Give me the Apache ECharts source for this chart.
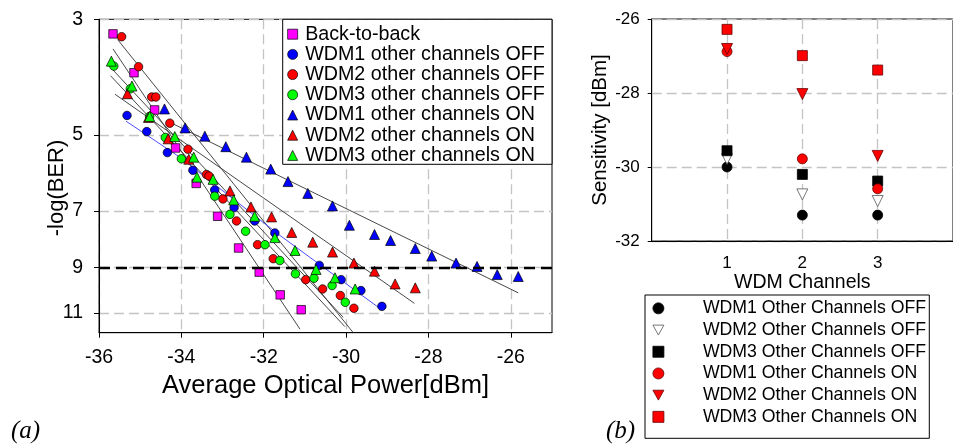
<!DOCTYPE html>
<html><head><meta charset="utf-8">
<script src="https://cdn.jsdelivr.net/npm/echarts@6/dist/echarts.min.js"></script>
<style>html,body{margin:0;padding:0;background:#fff}#c{width:953px;height:444px}</style>
</head><body><div id="c"></div>
<script>
const FONT = '"Liberation Sans", Arial, sans-serif';

// ---------- (a) BER curves ----------
const xTicksA = [-36, -34, -32, -30, -28, -26];
const yTicksA = [3, 5, 7, 9, 11];
const thresholdA = 9;

const b2bX = [-35.66, -35.15, -34.65, -34.14, -33.64, -33.12, -32.61, -32.11, -31.60, -31.09];
const b2bY = [3.20, 3.80, 4.48, 5.30, 6.20, 7.17, 8.25, 9.18, 10.15, 10.84];

const wdm1OffX = [-35.32, -34.84, -34.34, -33.72, -33.19, -32.72, -32.22, -31.73, -30.65, -30.12, -29.64, -29.13];
const wdm1OffY = [4.59, 4.93, 5.41, 5.85, 6.38, 6.90, 7.32, 7.72, 8.91, 9.49, 9.96, 10.68];

const wdm2OffX = [-35.45, -35.04, -34.72, -34.62, -34.28, -33.84, -33.39, -33.33, -32.99, -32.66, -32.15, -31.77, -30.98, -30.57, -30.14, -29.81];
const wdm2OffY = [3.24, 3.70, 4.23, 4.23, 4.75, 5.33, 5.96, 6.00, 6.64, 7.32, 8.13, 8.65, 9.49, 9.89, 10.18, 10.77];

const wdm3OffX = [-35.64, -35.24, -34.77, -34.39, -34.00, -33.19, -32.82, -32.44, -31.97, -31.61, -31.23, -30.78, -30.34, -30.02];
const wdm3OffY = [3.69, 4.08, 4.61, 5.06, 5.56, 6.56, 7.11, 7.66, 8.13, 8.72, 9.25, 9.43, 9.74, 10.49];

const wdm1OnX = [-34.41, -33.91, -33.43, -32.92, -32.42, -31.83, -31.41, -30.93, -30.33, -29.92, -29.31, -28.92, -28.32, -27.92, -27.33, -26.82, -26.33, -25.82];
const wdm1OnY = [4.46, 4.85, 5.03, 5.27, 5.52, 5.82, 6.15, 6.48, 6.85, 7.46, 7.77, 7.98, 8.27, 8.55, 8.82, 8.95, 9.28, 9.36];

const wdm2OnX = [-35.31, -34.80, -34.32, -33.82, -32.82, -32.31, -31.81, -31.32, -30.81, -30.33, -29.81, -29.31, -28.81, -28.32];
const wdm2OnY = [4.17, 4.63, 5.09, 5.57, 6.41, 6.88, 7.19, 7.70, 8.04, 8.40, 8.82, 9.14, 9.67, 9.84];

const wdm3OnX = [-35.70, -35.20, -34.77, -34.16, -33.70, -33.62, -33.23, -32.73, -32.22, -31.73, -31.24, -30.73, -30.27, -29.78];
const wdm3OnY = [3.61, 4.03, 4.61, 5.04, 5.52, 6.03, 6.09, 6.67, 7.17, 7.88, 8.34, 9.07, 9.41, 9.89];

// fitted lines
const fitB2bX = [-35.66, -31.12];     const fitB2bY = [3.42, 11.81];
const fitWdm2OffX = [-35.55, -29.83]; const fitWdm2OffY = [3.28, 11.99];
const fitWdm3OffX = [-35.72, -30.07]; const fitWdm3OffY = [3.71, 11.21];
const fitWdm3OnX = [-35.72, -30.03];  const fitWdm3OnY = [3.85, 11.68];
const fitWdm2OnX = [-35.61, -28.34];  const fitWdm2OnY = [4.18, 10.54];
const fitWdm1OnX = [-34.33, -25.82];  const fitWdm1OnY = [4.71, 10.06];
const fitWdm1OffX = [-35.34, -34.04, -31.61, -29.13]; const fitWdm1OffY = [4.71, 5.52, 7.80, 10.85];

// ---------- (b) sensitivity ----------
const channels = [1, 2, 3];
const sensWdm1Off = [-30.00, -31.30, -31.30];
const sensWdm2Off = [-29.78, -30.74, -30.92];
const sensWdm3Off = [-29.56, -30.20, -30.38];
const sensWdm1On = [-26.88, -29.78, -30.59];
const sensWdm2On = [-26.81, -28.03, -29.70];
const sensWdm3On = [-26.28, -26.99, -27.38];

const namesA = ['Back-to-back', 'WDM1 other channels OFF', 'WDM2 other channels OFF', 'WDM3 other channels OFF',
  'WDM1 other channels ON', 'WDM2 other channels ON', 'WDM3 other channels ON'];
const namesB = ['WDM1 Other Channels OFF', 'WDM2 Other Channels OFF', 'WDM3 Other Channels OFF',
  'WDM1 Other Channels ON', 'WDM2 Other Channels ON', 'WDM3 Other Channels ON'];

const zip = (xs, ys) => xs.map((x, i) => [x, ys[i]]);

const MAG = '#ff00ff', BLUE = '#0000ff', RED = '#ff0000', GREEN = '#00ff00';
const gridLine = { show: true, lineStyle: { color: '#c4c4c4', type: [10, 5], width: 1.3 } };
const DOWN_TRI = 'path://M0,0L10,0L5,9Z';

function scA(name, xs, ys, symbol, color, size) {
  return { type: 'scatter', name, xAxisIndex: 0, yAxisIndex: 0, data: zip(xs, ys), symbol, symbolSize: size,
    itemStyle: { color, borderColor: '#000', borderWidth: 0.7, opacity: 1 }, z: 3 };
}
function fitA(xs, ys, color) {
  return { type: 'line', name: '_fit', xAxisIndex: 0, yAxisIndex: 0, data: zip(xs, ys), symbol: 'none', showSymbol: false,
    silent: true, lineStyle: { color, width: 0.9 }, z: 2 };
}
function scB(name, ys, symbol, color, border, size, rot) {
  return { type: 'scatter', name, xAxisIndex: 1, yAxisIndex: 1, data: zip(channels, ys), symbol, symbolSize: size,
    symbolRotate: rot || 0, itemStyle: { color, borderColor: border, borderWidth: 0.8, opacity: 1 }, z: 3 };
}

const b2bSeries = scA(namesA[0], b2bX, b2bY, 'rect', MAG, 8.5);
b2bSeries.markLine = { silent: true, symbol: 'none', label: { show: false },
  lineStyle: { color: '#000', type: [11, 6], width: 2.4 }, data: [{ yAxis: thresholdA }] };

const legendB = namesB.map((n, i) => (i === 1 || i === 4) ? { name: n, icon: DOWN_TRI } : { name: n });

const option = {
  animation: false,
  backgroundColor: '#fff',
  textStyle: { fontFamily: FONT },
  grid: [
    { left: 99, top: 19.3, width: 453, height: 313.4, show: true, borderColor: '#000', borderWidth: 1, backgroundColor: '#fff' },
    { left: 651.7, top: 19, width: 309.2, height: 222, show: true, borderColor: '#000', borderWidth: 1, backgroundColor: '#fff' }
  ],
  xAxis: [
    { gridIndex: 0, type: 'value', min: -36, max: -25,
      axisLine: { show: true, lineStyle: { color: '#000' } },
      axisTick: { show: true, length: 5, customValues: xTicksA, lineStyle: { color: '#000' } },
      axisLabel: { customValues: xTicksA, fontSize: 19.5, color: '#000', margin: 15, fontFamily: FONT },
      splitLine: gridLine,
      name: 'Average Optical Power[dBm]', nameLocation: 'middle', nameGap: 37,
      nameTextStyle: { fontSize: 25.5, color: '#000', fontFamily: FONT } },
    { gridIndex: 1, type: 'value', min: 0, max: 4,
      axisLine: { show: true, lineStyle: { color: '#000' } },
      axisTick: { show: false, customValues: channels },
      axisLabel: { customValues: channels, fontSize: 17, color: '#000', margin: 14, fontFamily: FONT },
      splitLine: gridLine,
      name: 'WDM Channels', nameLocation: 'middle', nameGap: 30,
      nameTextStyle: { fontSize: 19.5, color: '#000', fontFamily: FONT } }
  ],
  yAxis: [
    { gridIndex: 0, type: 'log', logBase: 10, min: 3, max: 12, inverse: true,
      axisLine: { show: true, lineStyle: { color: '#000' } },
      axisTick: { show: true, length: 5, customValues: yTicksA, lineStyle: { color: '#000' } },
      axisLabel: { customValues: yTicksA, fontSize: 19.5, color: '#000', margin: 16, fontFamily: FONT },
      splitLine: gridLine },
    { gridIndex: 1, type: 'value', min: -32, max: -26, interval: 2,
      axisLine: { show: true, lineStyle: { color: '#000' } },
      axisTick: { show: true, length: 4, lineStyle: { color: '#000' } },
      axisLabel: { fontSize: 17, color: '#000', margin: 12, fontFamily: FONT },
      splitLine: gridLine,
      name: 'Sensitivity [dBm]', nameLocation: 'middle', nameGap: 38,
      nameTextStyle: { fontSize: 20.5, color: '#000', fontFamily: FONT } }
  ],
  legend: [
    { orient: 'vertical', left: 287.3, top: 24.2, padding: 0, itemGap: 0.2, itemWidth: 10, itemHeight: 10,
      data: namesA, selectedMode: false, itemStyle: { borderWidth: 0.7, borderColor: '#000' },
      textStyle: { fontSize: 19.7, lineHeight: 20, color: '#000', fontFamily: FONT, padding: [0, 0, 0, 2.5] }, z: 6 },
    { orient: 'vertical', left: 652.5, top: 297.5, padding: 0, itemGap: 0, itemWidth: 11, itemHeight: 11,
      data: legendB, selectedMode: false, itemStyle: { borderWidth: 0.8 },
      textStyle: { fontSize: 17.7, lineHeight: 21.7, color: '#000', fontFamily: FONT, padding: [0, 0, 0, 34] }, z: 6 }
  ],
  graphic: [
    { type: 'rect', z: 5, shape: { x: 282.7, y: 19.3, width: 269.3, height: 145 },
      style: { fill: '#fff', stroke: '#000', lineWidth: 1 } },
    { type: 'rect', z: 5, shape: { x: 645, y: 295, width: 284.3, height: 143.3 },
      style: { fill: '#fff', stroke: '#000', lineWidth: 1 } },
    { type: 'text', x: 57, y: 188, rotation: Math.PI / 2, z: 6,
      style: { text: '-log(BER)', font: '22px ' + FONT, fill: '#000', textAlign: 'center', textVerticalAlign: 'middle' } },
    { type: 'text', x: 11, y: 431, z: 6,
      style: { text: '(a)', font: 'italic 25px "Liberation Serif", "Times New Roman", serif', fill: '#000', textAlign: 'left', textVerticalAlign: 'middle' } },
    { type: 'text', x: 606, y: 431, z: 6,
      style: { text: '(b)', font: 'italic 25px "Liberation Serif", "Times New Roman", serif', fill: '#000', textAlign: 'left', textVerticalAlign: 'middle' } }
  ],
  series: [
    fitA(fitB2bX, fitB2bY, '#333'),
    fitA(fitWdm2OffX, fitWdm2OffY, '#333'),
    fitA(fitWdm3OffX, fitWdm3OffY, '#333'),
    fitA(fitWdm3OnX, fitWdm3OnY, '#333'),
    fitA(fitWdm2OnX, fitWdm2OnY, '#333'),
    fitA(fitWdm1OnX, fitWdm1OnY, '#333'),
    fitA(fitWdm1OffX, fitWdm1OffY, '#3a3aff'),
    b2bSeries,
    scA(namesA[1], wdm1OffX, wdm1OffY, 'circle', BLUE, 8.5),
    scA(namesA[2], wdm2OffX, wdm2OffY, 'circle', RED, 8.5),
    scA(namesA[3], wdm3OffX, wdm3OffY, 'circle', GREEN, 8.5),
    scA(namesA[4], wdm1OnX, wdm1OnY, 'triangle', BLUE, 10),
    scA(namesA[5], wdm2OnX, wdm2OnY, 'triangle', RED, 10),
    scA(namesA[6], wdm3OnX, wdm3OnY, 'triangle', GREEN, 10),
    scB(namesB[0], sensWdm1Off, 'circle', '#000', '#000', 10),
    scB(namesB[1], sensWdm2Off, 'triangle', '#fff', '#555', 11, 180),
    scB(namesB[2], sensWdm3Off, 'rect', '#000', '#000', 10),
    scB(namesB[3], sensWdm1On, 'circle', RED, '#600', 10),
    scB(namesB[4], sensWdm2On, 'triangle', RED, '#600', 11, 180),
    scB(namesB[5], sensWdm3On, 'rect', RED, '#600', 10)
  ]
};

const chart = echarts.init(document.getElementById('c'));
chart.setOption(option);
</script>
</body></html>
